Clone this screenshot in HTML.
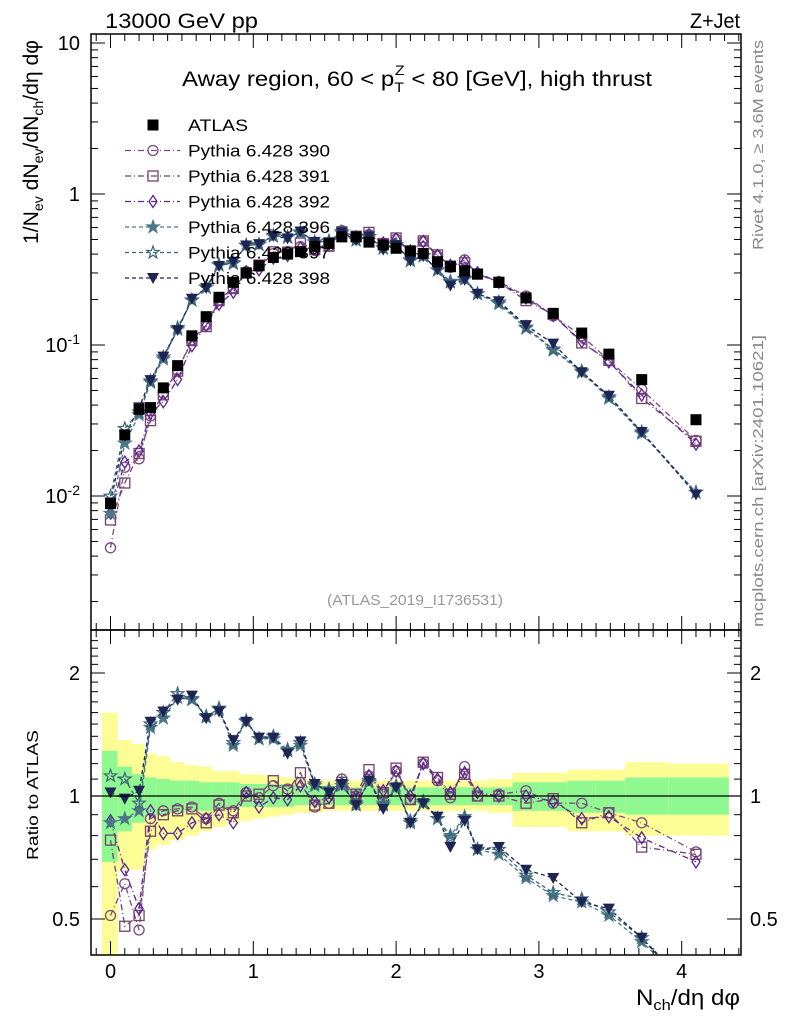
<!DOCTYPE html>
<html><head><meta charset="utf-8"><style>
html,body{margin:0;padding:0;background:#fff;}
svg{display:block;font-family:"Liberation Sans",sans-serif;}
</style></head><body>
<svg id="chart" width="786" height="1024" viewBox="0 0 786 1024" xmlns="http://www.w3.org/2000/svg">
<rect x="0" y="0" width="786" height="1024" fill="#fff"/>
<g id="bands"></g>
<g id="lines"></g>
<g id="marks"></g>
<g id="axes"></g>
<text x="105" y="28" font-size="21" textLength="153" lengthAdjust="spacingAndGlyphs">13000 GeV pp</text>
<text x="690" y="28" font-size="21" textLength="50" lengthAdjust="spacingAndGlyphs">Z+Jet</text>
<text x="182" y="86" font-size="21" textLength="470" lengthAdjust="spacingAndGlyphs">Away region, 60 &lt; p<tspan font-size="14" dy="6">T</tspan><tspan font-size="14" dx="-8" dy="-17">Z</tspan><tspan dy="11"> &lt; 80 [GeV], high thrust</tspan></text>
<text x="327" y="605" font-size="15" fill="#999" textLength="176" lengthAdjust="spacingAndGlyphs">(ATLAS_2019_I1736531)</text>
<text transform="translate(763,250) rotate(-90)" font-size="15" fill="#888" textLength="210" lengthAdjust="spacingAndGlyphs">Rivet 4.1.0, ≥ 3.6M events</text>
<text transform="translate(763,627) rotate(-90)" font-size="15" fill="#888" textLength="292" lengthAdjust="spacingAndGlyphs">mcplots.cern.ch [arXiv:2401.10621]</text>
<text transform="translate(38,244) rotate(-90)" font-size="21" textLength="204" lengthAdjust="spacingAndGlyphs">1/N<tspan font-size="14" dy="5">ev</tspan><tspan dy="-5"> dN</tspan><tspan font-size="14" dy="5">ev</tspan><tspan dy="-5">/dN</tspan><tspan font-size="14" dy="5">ch</tspan><tspan dy="-5">/dη dφ</tspan></text>
<text transform="translate(38,860) rotate(-90)" font-size="16" textLength="130" lengthAdjust="spacingAndGlyphs">Ratio to ATLAS</text>
<text x="636" y="1005" font-size="22" textLength="104" lengthAdjust="spacingAndGlyphs">N<tspan font-size="15" dy="5">ch</tspan><tspan dy="-5">/dη dφ</tspan></text>
<g id="legend"></g>
</svg>
<script>
// ---- data ----
const xVals = [0,0.1,0.2,0.28,0.37,0.47,0.57,0.67,0.76,0.86,0.95,1.04,1.14,1.24,1.33,1.43,1.53,1.62,1.72,1.81,1.91,2.0,2.1,2.19,2.29,2.38,2.48,2.57,2.72,2.91,3.1,3.3,3.49,3.72,4.1];
const atlas = [0.0089,0.0254,0.0375,0.0385,0.052,0.073,0.115,0.154,0.207,0.26,0.30,0.335,0.38,0.40,0.415,0.45,0.47,0.52,0.52,0.48,0.46,0.437,0.42,0.404,0.356,0.33,0.31,0.295,0.26,0.205,0.162,0.12,0.087,0.059,0.032];
const ratio390 = [0.51,0.61,0.47,0.88,0.92,0.93,0.94,0.88,0.96,0.92,1.02,0.99,1.06,1.04,1.08,0.94,0.96,1.1,1.0,1.12,1.01,1.15,0.98,1.2,1.09,0.99,1.18,1.0,1.01,1.03,0.96,0.96,0.91,0.86,0.73];
const ratio391 = [0.78,0.48,0.51,0.82,0.90,0.92,0.93,0.86,0.95,0.91,1.0,1.01,1.09,1.03,1.14,0.95,0.96,1.08,1.01,1.16,1.02,1.17,0.98,1.21,1.11,1.01,1.13,1.0,1.0,0.96,0.985,0.86,0.91,0.75,0.72];
const ratio392 = [0.87,0.66,0.53,0.92,0.81,0.81,0.86,0.88,0.9,0.86,1.02,0.94,0.99,0.98,1.06,0.97,0.99,1.07,1.0,1.12,1.03,1.15,1.0,1.2,1.1,1.02,1.14,1.02,1.0,1.0,0.97,0.88,0.89,0.79,0.69];
const ratio396 = [0.86,0.88,0.92,1.47,1.55,1.74,1.72,1.57,1.63,1.33,1.53,1.38,1.38,1.30,1.33,1.06,1.04,1.06,0.96,1.08,0.96,1.05,0.87,0.96,0.88,0.80,0.89,0.74,0.72,0.63,0.57,0.55,0.51,0.44,0.33];
const ratio397 = [1.12,1.10,0.96,1.50,1.60,1.78,1.73,1.56,1.64,1.35,1.52,1.38,1.40,1.29,1.35,1.07,1.03,1.08,0.95,1.09,0.95,1.06,0.86,0.97,0.88,0.79,0.88,0.74,0.74,0.64,0.58,0.56,0.52,0.45,0.33];
const ratio398 = [1.02,0.985,1.03,1.52,1.61,1.72,1.76,1.55,1.61,1.37,1.52,1.39,1.39,1.27,1.36,1.07,1.02,1.07,0.95,1.09,0.93,1.05,0.86,0.96,0.89,0.75,0.87,0.74,0.75,0.66,0.63,0.55,0.53,0.45,0.32];
const yelUp = [1.6,1.37,1.34,1.27,1.25,1.21,1.19,1.18,1.15,1.15,1.13,1.13,1.12,1.11,1.1,1.1,1.09,1.09,1.09,1.09,1.09,1.09,1.09,1.09,1.09,1.09,1.09,1.09,1.1,1.14,1.14,1.16,1.16,1.21,1.2];
const yelLo = [0.4,0.66,0.66,0.74,0.76,0.78,0.8,0.82,0.84,0.86,0.87,0.88,0.89,0.9,0.91,0.91,0.92,0.92,0.92,0.92,0.92,0.92,0.92,0.92,0.92,0.92,0.92,0.92,0.91,0.84,0.84,0.82,0.82,0.8,0.8];
const grnUp = [1.29,1.18,1.13,1.11,1.1,1.09,1.09,1.08,1.08,1.08,1.07,1.07,1.07,1.07,1.06,1.06,1.06,1.06,1.05,1.05,1.05,1.05,1.05,1.05,1.05,1.05,1.05,1.05,1.05,1.08,1.08,1.09,1.09,1.11,1.11];
const grnLo = [0.69,0.82,0.86,0.89,0.9,0.91,0.92,0.92,0.93,0.93,0.94,0.94,0.94,0.94,0.95,0.95,0.95,0.95,0.95,0.95,0.95,0.95,0.95,0.95,0.95,0.95,0.95,0.95,0.95,0.92,0.92,0.91,0.91,0.9,0.9];
const xTicks = [0,1,2,3,4];
const mainTickLabels = ["10^-2","10^-1","1","10"];
const ratioTicks = [0.5,1,2];

// ---- axes ----
const L=91,R=741,T=34,MB=630,RB=955;
const X = v => 110.5 + v*142.8;
const Ym = v => 194 - 151*Math.log10(v);
const Yr = v => 796 - 408.6*Math.log10(v);
const NS="http://www.w3.org/2000/svg";
function mk(tag, attrs, parent){const e=document.createElementNS(NS,tag);for(const k in attrs)e.setAttribute(k,attrs[k]);parent.appendChild(e);return e;}
const svg=document.getElementById('chart');
const bands=document.getElementById('bands'), linesG=document.getElementById('lines'), marksG=document.getElementById('marks'), axes=document.getElementById('axes'), leg=document.getElementById('legend');

const edges=[-0.06];
for(let i=0;i<xVals.length-1;i++) edges.push((xVals[i]+xVals[i+1])/2);
edges.push(4.33);
const clipY=v=>Math.max(MB,Math.min(RB,v));
for(let i=0;i<xVals.length;i++){
  const x0=X(edges[i]), x1=X(edges[i+1]);
  const y=mk('rect',{x:x0,y:clipY(Yr(yelUp[i])),width:x1-x0,height:clipY(Yr(yelLo[i]))-clipY(Yr(yelUp[i])),fill:'#fdfd96'},bands);
  
  
  const g=mk('rect',{x:x0,y:clipY(Yr(grnUp[i])),width:x1-x0,height:clipY(Yr(grnLo[i]))-clipY(Yr(grnUp[i])),fill:'#90f890'},bands);
  
  
}

mk('rect',{x:L,y:T,width:R-L,height:MB-T,fill:'none',stroke:'#000','stroke-width':1.5},axes);
mk('rect',{x:L,y:MB,width:R-L,height:RB-MB,fill:'none',stroke:'#000','stroke-width':1.5},axes);
mk('line',{x1:L,x2:R,y1:Yr(1),y2:Yr(1),stroke:'#000','stroke-width':1.3},axes);
for(let v=-0.1;v<=4.4;v+=0.1){
  const vv=Math.round(v*10)/10, maj=Math.abs(vv-Math.round(vv))<1e-6;
  const x=X(vv); if(x<L||x>R) continue;
  const len=maj?14:7;
  for(const [yb,dir] of [[MB,-1],[T,1],[RB,-1],[MB,1]]) mk('line',{x1:x,x2:x,y1:yb,y2:yb+dir*len,stroke:'#000','stroke-width':1},axes);
}
xTicks.forEach(v=>{const t=mk('text',{x:X(v),y:978,'font-size':20,'text-anchor':'middle'},axes);t.textContent=v;
 
 });
for(let d=-3;d<=1;d++){for(let m=1;m<10;m++){const v=m*Math.pow(10,d);const y=Ym(v);if(y<T||y>MB)continue;const len=m==1?14:7;
 mk('line',{x1:L,x2:L+len,y1:y,y2:y,stroke:'#000'},axes);mk('line',{x1:R,x2:R-len,y1:y,y2:y,stroke:'#000'},axes);}}
mainTickLabels.forEach((s,i)=>{const v=Math.pow(10,i-2);const y=Ym(v)+7;
 const t=mk('text',{x:80,y:y,'font-size':20,'text-anchor':'end'},axes);
 
 
 if(s.indexOf('^')>0){const p=s.split('^');t.textContent=p[0];const ts=mk('tspan',{'font-size':14,dy:-8},t);ts.textContent=p[1];}else t.textContent=s;});
for(let v=0.4;v<=2.5;v+=0.1){const vv=Math.round(v*10)/10;const y=Yr(vv);if(y<MB||y>RB)continue;const maj=[0.5,1,2].includes(vv);const len=maj?14:7;
 mk('line',{x1:L,x2:L+len,y1:y,y2:y,stroke:'#000'},axes);mk('line',{x1:R,x2:R-len,y1:y,y2:y,stroke:'#000'},axes);}
ratioTicks.forEach(v=>{const y=Yr(v)+7;
 const a=mk('text',{x:80,y:y,'font-size':20,'text-anchor':'end'},axes);a.textContent=v;
 
 
 const b=mk('text',{x:750,y:y,'font-size':20},axes);b.textContent=v;
 
 });

function marker(type,x,y,c,parent){
  const s=5;
  if(type==='circle') return mk('circle',{cx:x,cy:y,r:s,fill:'none',stroke:c,'stroke-width':1.3},parent);
  if(type==='square') return mk('rect',{x:x-s,y:y-s,width:2*s,height:2*s,fill:'none',stroke:c,'stroke-width':1.3},parent);
  if(type==='diamond') return mk('polygon',{points:`${x},${y-6} ${x+4},${y} ${x},${y+6} ${x-4},${y}`,fill:'none',stroke:c,'stroke-width':1.3},parent);
  if(type==='atlas') return mk('rect',{x:x-5.5,y:y-5.5,width:11,height:11,fill:'#000'},parent);
  if(type==='tri') return mk('polygon',{points:`${x-6},${y-5} ${x+6},${y-5} ${x},${y+6}`,fill:c},parent);
  const pts=[];for(let k=0;k<10;k++){const a=-Math.PI/2+k*Math.PI/5;const r=k%2?2.6:6.5;pts.push((x+r*Math.cos(a)).toFixed(1)+','+(y+r*Math.sin(a)).toFixed(1));}
  return mk('polygon',{points:pts.join(' '),fill:type==='starF'?c:'none',stroke:c,'stroke-width':1.2},parent);
}
const series=[
 {name:'Pythia 6.428 390',r:ratio390,c:'#7a4a80',m:'circle',dash:'6,3,1,3'},
 {name:'Pythia 6.428 391',r:ratio391,c:'#76406a',m:'square',dash:'6,3,1,3'},
 {name:'Pythia 6.428 392',r:ratio392,c:'#5a2590',m:'diamond',dash:'6,3,1,3'},
 {name:'Pythia 6.428 396',r:ratio396,c:'#4a7888',m:'starF',dash:'4,3'},
 {name:'Pythia 6.428 397',r:ratio397,c:'#3a6678',m:'starO',dash:'4,3'},
 {name:'Pythia 6.428 398',r:ratio398,c:'#1e2454',m:'tri',dash:'4,3'}
];
const defs=mk('defs',{},svg);
const cm=mk('clipPath',{id:'cm'},defs);mk('rect',{x:L,y:T,width:R-L,height:MB-T},cm);
const cr=mk('clipPath',{id:'cr'},defs);mk('rect',{x:L,y:MB,width:R-L,height:RB-MB},cr);




const lm=mk('g',{'clip-path':'url(#cm)'},linesG), lr=mk('g',{'clip-path':'url(#cr)'},linesG);
const mm=mk('g',{'clip-path':'url(#cm)'},marksG), mr=mk('g',{'clip-path':'url(#cr)'},marksG);
series.forEach(s=>{
  const pm=xVals.map((x,i)=>X(x).toFixed(1)+','+Ym(atlas[i]*s.r[i]).toFixed(1)).join(' ');
  const pr=xVals.map((x,i)=>X(x).toFixed(1)+','+Yr(s.r[i]).toFixed(1)).join(' ');
  const l1=mk('polyline',{points:pm,fill:'none',stroke:s.c,'stroke-width':1.3,'stroke-dasharray':s.dash},lm);
  
  
  const l2=mk('polyline',{points:pr,fill:'none',stroke:s.c,'stroke-width':1.3,'stroke-dasharray':s.dash},lr);
  
  
  xVals.forEach((x,i)=>{
    const a=marker(s.m,X(x),Ym(atlas[i]*s.r[i]),s.c,mm);
    
    
    const b=marker(s.m,X(x),Yr(s.r[i]),s.c,mr);
    
    
  });
});
xVals.forEach((x,i)=>{const a=marker('atlas',X(x),Ym(atlas[i]),'#000',mm);
  
  });

const legY0=125, legDY=25.5;
const ea=mk('g',{},leg);


marker('atlas',153,legY0,'#000',ea);
const ta=mk('text',{x:188,y:legY0+6,'font-size':17,textLength:60,lengthAdjust:'spacingAndGlyphs'},ea);ta.textContent='ATLAS';
series.forEach((s,i)=>{const y=legY0+legDY*(i+1);
  const g=mk('g',{},leg);
  
  
  mk('line',{x1:125,x2:180,y1:y,y2:y,stroke:s.c,'stroke-width':1.3,'stroke-dasharray':s.dash},g);
  marker(s.m,153,y,s.c,g);
  const t=mk('text',{x:188,y:y+6,'font-size':17,textLength:142,lengthAdjust:'spacingAndGlyphs'},g);t.textContent=s.name;});
</script>
</body></html>
